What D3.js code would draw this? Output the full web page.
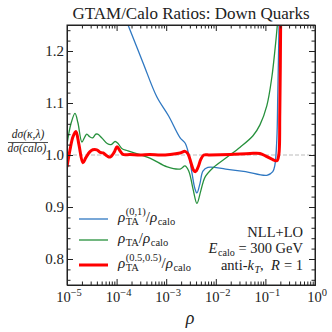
<!DOCTYPE html>
<html lang="en">
<head>
<meta charset="UTF-8" />
<title>GTAM/Calo Ratios: Down Quarks</title>
<script src="https://d3js.org/d3.v7.min.js"></script>
<style>
  body { margin: 0; background: #fff; }
  svg text { font-family: "Liberation Serif", "DejaVu Serif", serif; }
</style>
</head>
<body>
<div id="chart"></div>
<script>
// data
const rhoBlue = [1.26e-4, 1.70e-4, 3.39e-4, 6.46e-4, 1.12e-3, 1.91e-3, 2.40e-3, 2.82e-3,
  3.31e-3, 3.80e-3, 4.17e-3, 4.79e-3, 5.50e-3, 6.92e-3, 1.58e-2, 3.98e-2, 0.107, 0.141,
  0.155, 0.170, 0.178, 0.191];
const ratioBlue = [1.28, 1.25, 1.178, 1.112, 1.075, 1.033, 1.023, 1.003,
  0.965, 0.935, 0.927, 0.945, 0.969, 0.976, 0.973, 0.968, 0.961, 0.968,
  0.98, 1.03, 1.12, 1.28];

const rhoGreen = [1.00e-5, 1.20e-5, 1.45e-5, 1.66e-5, 2.00e-5, 2.29e-5, 2.51e-5, 2.88e-5,
  3.31e-5, 3.80e-5, 4.17e-5, 5.13e-5, 6.46e-5, 7.76e-5, 9.33e-5, 1.07e-4, 1.29e-4, 1.70e-4,
  4.68e-4, 1.05e-3, 1.91e-3, 2.40e-3, 2.88e-3, 3.47e-3, 4.17e-3, 5.01e-3, 6.03e-3, 8.71e-3,
  1.70e-2, 3.09e-2, 5.62e-2, 7.76e-2, 0.107, 0.135, 0.155, 0.174, 0.186];
const ratioGreen = [1.02, 1.06, 1.08, 1.062, 1.025, 1.035, 1.04, 1.035,
  1.033, 1.04, 1.04, 1.032, 1.022, 1.02, 1.026, 1.022, 1.012, 1.008,
  0.994, 0.977, 0.973, 0.979, 0.968, 0.935, 0.907, 0.932, 0.957, 0.975,
  0.996, 1.015, 1.037, 1.058, 1.095, 1.15, 1.2, 1.25, 1.29];

const rhoRed = [1.00e-5, 1.15e-5, 1.32e-5, 1.51e-5, 1.74e-5, 2.09e-5, 2.40e-5, 2.88e-5,
  3.31e-5, 3.98e-5, 4.68e-5, 5.37e-5, 6.46e-5, 7.41e-5, 8.91e-5, 1.02e-4, 1.17e-4, 1.35e-4,
  1.86e-4, 2.95e-4, 4.68e-4, 7.59e-4, 1.20e-3, 1.91e-3, 2.40e-3, 2.75e-3, 3.16e-3, 3.55e-3,
  3.89e-3, 4.37e-3, 5.01e-3, 5.75e-3, 7.59e-3, 1.95e-2, 4.90e-2, 7.76e-2, 0.102, 0.135,
  0.170, 0.186, 0.195, 0.204];
const ratioRed = [0.977, 1.01, 1.035, 1.045, 1.02, 0.985, 0.995, 1.006,
  1.01, 1.01, 1.005, 1.004, 0.998, 0.996, 1.005, 1.016, 1.008, 1.001,
  1.001, 1.0, 1.001, 1.0, 1.001, 1.004, 1.007, 1.002, 0.985, 0.971,
  0.968, 0.976, 0.992, 1.0, 1.0, 1.001, 1.003, 1.003, 0.998, 0.992,
  0.989, 1.0, 1.08, 1.28];

const yTicks = [0.8, 0.9, 1.0, 1.1, 1.2];
const xTickExps = [-5, -4, -3, -2, -1, 0];

const W = 332, H = 332;
const m = { left: 67, right: 315, top: 25, bottom: 285 };

const svg = d3.select("#chart").append("svg")
  .attr("width", W).attr("height", H);

const x = d3.scaleLog().domain([1e-5, 1]).range([m.left, m.right]);
const y = d3.scaleLinear().domain([0.75, 1.25]).range([m.bottom, m.top]);

svg.append("clipPath").attr("id", "clip")
  .append("rect")
  .attr("x", m.left).attr("y", m.top)
  .attr("width", m.right - m.left).attr("height", m.bottom - m.top);

// reference line at 1
svg.append("line")
  .attr("x1", m.left).attr("x2", m.right)
  .attr("y1", y(1)).attr("y2", y(1))
  .attr("stroke", "#bbb").attr("stroke-width", 1)
  .attr("stroke-dasharray", "4,2");

const line = d3.line().curve(d3.curveCatmullRom.alpha(0.5))
  .x(d => x(d[0])).y(d => y(d[1]));

const series = [
  { rho: rhoBlue, ratio: ratioBlue, color: "#2f78c2", width: 1.3 },
  { rho: rhoGreen, ratio: ratioGreen, color: "#26903c", width: 1.3 },
  { rho: rhoRed, ratio: ratioRed, color: "#ff0000", width: 3 }
];

const plot = svg.append("g").attr("clip-path", "url(#clip)");
series.forEach(s => {
  plot.append("path")
    .datum(s.rho.map((r, i) => [r, s.ratio[i]]))
    .attr("fill", "none")
    .attr("stroke", s.color)
    .attr("stroke-width", s.width)
    .attr("stroke-linejoin", "round")
    .attr("d", line);
});

// axes, ticks pointing inwards on all sides
const yMinor = d3.range(0.76, 1.25, 0.02).filter(v => Math.abs(v * 10 - Math.round(v * 10)) > 0.01);
const xMinor = [];
xTickExps.slice(0, -1).forEach(e => {
  for (let k = 2; k <= 9; k++) xMinor.push(k * Math.pow(10, e));
});
const xMajor = xTickExps.map(e => Math.pow(10, e));

function ticks(axis, pos, values, size) {
  return svg.append("g").attr("transform", pos)
    .call(axis.tickValues(values).tickSizeInner(-size).tickSizeOuter(0).tickFormat(""));
}
ticks(d3.axisLeft(y), `translate(${m.left},0)`, yTicks, 6);
ticks(d3.axisLeft(y), `translate(${m.left},0)`, yMinor, 3.5);
ticks(d3.axisRight(y), `translate(${m.right},0)`, yTicks, 6);
ticks(d3.axisRight(y), `translate(${m.right},0)`, yMinor, 3.5);
ticks(d3.axisBottom(x), `translate(0,${m.bottom})`, xMajor, 6);
ticks(d3.axisBottom(x), `translate(0,${m.bottom})`, xMinor, 3.5);
ticks(d3.axisTop(x), `translate(0,${m.top})`, xMajor, 6);
ticks(d3.axisTop(x), `translate(0,${m.top})`, xMinor, 3.5);

svg.selectAll(".domain").attr("stroke", "#222");
svg.selectAll(".tick line").attr("stroke", "#222");

// frame
svg.append("rect")
  .attr("x", m.left).attr("y", m.top)
  .attr("width", m.right - m.left).attr("height", m.bottom - m.top)
  .attr("fill", "none").attr("stroke", "#222").attr("stroke-width", 1);

// y tick labels
yTicks.forEach(v => {
  svg.append("text").attr("x", m.left - 3).attr("y", y(v) + 5)
    .attr("text-anchor", "end").style("font-size", "15px")
    .text(d3.format(".1f")(v));
});

// x tick labels 10^n
xTickExps.forEach(e => {
  const t = svg.append("text").attr("x", x(Math.pow(10, e)) + 2).attr("y", 302)
    .attr("text-anchor", "middle").style("font-size", "14.5px");
  t.append("tspan").text("10");
  t.append("tspan").attr("dy", -6).style("font-size", "10.5px")
    .text(e === 0 ? "0" : "\u2212" + Math.abs(e));
});

// math-ish text helper: parts of {b, i, sup, sub}
function mtext(g, x0, y0, parts, size) {
  let cx = x0;
  parts.forEach(p => {
    if (p.b) {
      const t = g.append("text").attr("x", cx).attr("y", y0)
        .style("font-size", size + "px")
        .style("white-space", "pre")
        .style("font-style", p.i ? "italic" : "normal")
        .text(p.b);
      cx += t.node().getComputedTextLength() + (p.i ? 0.5 : 0);
    }
    let w = 0;
    if (p.sup) {
      const t = g.append("text").attr("x", cx).attr("y", y0 - size * 0.5)
        .style("font-size", (size * 0.7) + "px").text(p.sup);
      w = Math.max(w, t.node().getComputedTextLength());
    }
    if (p.sub) {
      const t = g.append("text").attr("x", cx).attr("y", y0 + size * 0.22)
        .style("font-size", (size * 0.7) + "px")
        .style("font-style", p.subI ? "italic" : "normal").text(p.sub);
      w = Math.max(w, t.node().getComputedTextLength());
    }
    cx += w;
  });
  return cx - x0;
}

// title
svg.append("text").attr("x", 191).attr("y", 19).attr("text-anchor", "middle")
  .style("font-size", "17px").text("GTAM/Calo Ratios: Down Quarks");

// x label
svg.append("text").attr("x", 190).attr("y", 324).attr("text-anchor", "middle")
  .style("font-size", "18px").style("font-style", "italic").text("ρ");

// y label as a fraction
const yl = svg.append("g");
yl.append("text").attr("x", 28).attr("y", 138).attr("text-anchor", "middle")
  .style("font-size", "11.5px").style("font-style", "italic").text("dσ(κ,λ)");
yl.append("line").attr("x1", 8).attr("x2", 48).attr("y1", 142.5).attr("y2", 142.5)
  .attr("stroke", "#222").attr("stroke-width", 0.8);
yl.append("text").attr("x", 27).attr("y", 152).attr("text-anchor", "middle")
  .style("font-size", "11.5px").style("font-style", "italic").text("dσ(calo)");

// legend
const legend = [
  { color: "#2f78c2", width: 1.3, y: 219, parts: [{ b: "ρ", i: true, sup: "(0,1)", sub: "TA" }, { b: "/" }, { b: "ρ", i: true, sub: "calo" }] },
  { color: "#26903c", width: 1.3, y: 240, parts: [{ b: "ρ", i: true, sub: "TA" }, { b: "/" }, { b: "ρ", i: true, sub: "calo" }] },
  { color: "#ff0000", width: 3, y: 265, parts: [{ b: "ρ", i: true, sup: "(0.5,0.5)", sub: "TA" }, { b: "/" }, { b: "ρ", i: true, sub: "calo" }] }
];
legend.forEach(l => {
  svg.append("line").attr("x1", 79).attr("x2", 108).attr("y1", l.y).attr("y2", l.y)
    .attr("stroke", l.color).attr("stroke-width", l.width);
  mtext(svg.append("g"), 118, l.y + 3, l.parts, 15);
});

// annotations, right aligned
const notes = [
  { y: 237, parts: [{ b: "NLL+LO" }] },
  { y: 253, parts: [{ b: "E", i: true, sub: "calo" }, { b: " = 300 GeV" }] },
  { y: 270, parts: [{ b: "anti-" }, { b: "k", i: true, sub: "T", subI: true }, { b: ",  " }, { b: "R", i: true }, { b: " = 1" }] }
];
notes.forEach(n => {
  const g = svg.append("g");
  const w = mtext(g, 0, n.y, n.parts, 14.5);
  g.attr("transform", `translate(${303 - w},0)`);
});

svg.selectAll("text").attr("fill", "#222");
</script>
</body>
</html>
